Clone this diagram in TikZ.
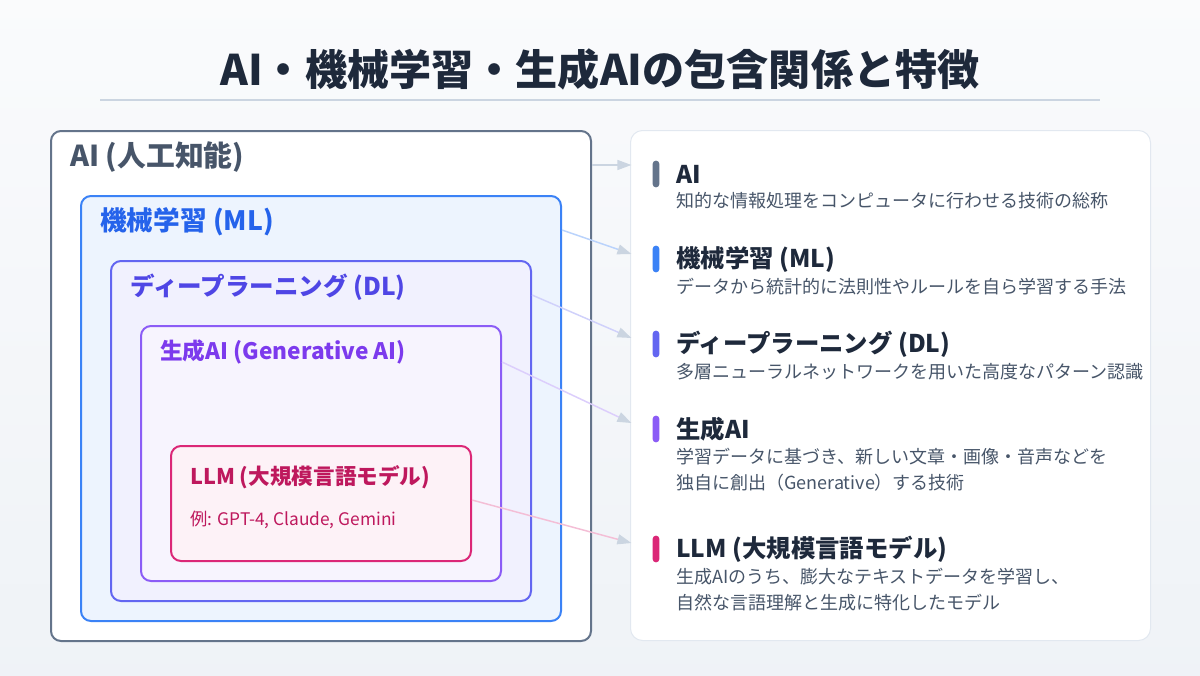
\documentclass[tikz,border=0pt]{standalone}
\usepackage{fontspec}
\setmainfont{Noto Sans CJK JP}
\usepackage{tikz}
\usetikzlibrary{arrows.meta, positioning, calc}
\usepackage{xcolor}
\definecolor{nestdark}{HTML}{1E293B}
\definecolor{nesttext}{HTML}{475569}
\definecolor{nestslate}{HTML}{64748B}
\definecolor{nestblue}{HTML}{3B82F6}
\definecolor{nestbluetext}{HTML}{2563EB}
\definecolor{nestindigo}{HTML}{6366F1}
\definecolor{nestindigotext}{HTML}{4F46E5}
\definecolor{nestviolet}{HTML}{8B5CF6}
\definecolor{nestviolettext}{HTML}{7C3AED}
\definecolor{nestpink}{HTML}{DB2777}
\definecolor{nestpinktext}{HTML}{BE185D}
\definecolor{nestline}{HTML}{CBD5E1}
\definecolor{nestborder}{HTML}{E2E8F0}

\tikzset{
  nestbox/.style={draw, line width=1.5pt, rounded corners=7.5pt,
    anchor=north west, inner sep=0pt},
  nestlabel/.style={anchor=west, inner sep=0pt, font=\bfseries\fontsize{#1}{#1}\selectfont},
  itembar/.style={rectangle, rounded corners=2.4pt, inner sep=0pt,
    minimum width=5pt, minimum height=20pt},
  itemhead/.style={anchor=west, inner sep=0pt, text=nestdark,
    font=\bfseries\fontsize{18.3}{18.3}\selectfont},
  itemdesc/.style={anchor=west, inner sep=0pt, text=nesttext, align=left,
    font=\fontsize{13.5}{19.5}\selectfont},
  link/.style={line width=1.1pt,
    -{Triangle[length=10.5pt, width=7.5pt, color=nestline]}}
}

\begin{document}
\begin{tikzpicture}[x=0.75pt, y=-0.75pt]
  \useasboundingbox (0,0) rectangle (1200,675);
  \shade[top color=white!40!nestborder!30, bottom color=nestborder!55] (0,0) rectangle (1200,675);

  % Title
  \node[font=\bfseries\fontsize{31.6}{36}\selectfont, text=nestdark] (title) at (600,69)
    {AI・機械学習・生成AIの包含関係と特徴};
  \draw[nestline, line width=1.5pt] (100,100) -- (1100,100);

  % Nested sets
  \node[nestbox, draw=nestslate, fill=white,
    minimum width=405pt, minimum height=382.5pt] (boxAI) at (50,130) {};
  \node[nestbox, draw=nestblue, fill=nestblue!9,
    minimum width=360pt, minimum height=318.75pt] (boxML) at (80,195) {};
  \node[nestbox, draw=nestindigo, fill=nestindigo!9,
    minimum width=315pt, minimum height=255pt] (boxDL) at (110,260) {};
  \node[nestbox, draw=nestviolet, fill=nestviolet!7,
    minimum width=270pt, minimum height=191.25pt] (boxGen) at (140,325) {};
  \node[nestbox, draw=nestpink, fill=nestpink!6,
    minimum width=225pt, minimum height=86.25pt] (boxLLM) at (170,445) {};

  \node[nestlabel=21.6, text=nesttext] (labelAI) at (70,157) {AI (人工知能)};
  \node[nestlabel=20, text=nestbluetext] (labelML) at (100,222) {機械学習 (ML)};
  \node[nestlabel=18.4, text=nestindigotext] (labelDL) at (130,287) {ディープラーニング (DL)};
  \node[nestlabel=17, text=nestviolettext] (labelGen) at (160,352) {生成AI (Generative AI)};
  \node[nestlabel=16.2, text=nestpinktext] (labelLLM) at (190,477) {LLM (大規模言語モデル)};
  \node[anchor=west, inner sep=0pt, text=nestpinktext, font=\fontsize{13}{13}\selectfont]
    (exLLM) at (190,520) {例: GPT-4, Claude, Gemini};

  % Legend panel
  \node[nestbox, draw=nestborder, line width=0.75pt, fill=white, rounded corners=9pt,
    minimum width=390pt, minimum height=382.5pt] (panel) at (630,130) {};

  \node[itembar, fill=nestslate] (barAI) at (656,174) {};
  \node[itemhead] (headAI) at (676,174) {AI};
  \node[itemdesc] (descAI) at (676,201) {知的な情報処理をコンピュータに行わせる技術の総称};

  \node[itembar, fill=nestblue] (barML) at (656,259) {};
  \node[itemhead] (headML) at (676,259) {機械学習 (ML)};
  \node[itemdesc] (descML) at (676,287) {データから統計的に法則性やルールを自ら学習する手法};

  \node[itembar, fill=nestindigo] (barDL) at (656,344) {};
  \node[itemhead] (headDL) at (676,344) {ディープラーニング (DL)};
  \node[itemdesc] (descDL) at (676,372) {多層ニューラルネットワークを用いた高度なパターン認識};

  \node[itembar, fill=nestviolet] (barGen) at (656,429) {};
  \node[itemhead] (headGen) at (676,429) {生成AI};
  \node[itemdesc] (descGen) at (676,470)
    {学習データに基づき、新しい文章・画像・音声などを\\独自に創出（Generative）する技術};

  \node[itembar, fill=nestpink] (barLLM) at (656,549) {};
  \node[itemhead] (headLLM) at (676,549) {LLM (大規模言語モデル)};
  \node[itemdesc] (descLLM) at (676,590)
    {生成AIのうち、膨大なテキストデータを学習し、\\自然な言語理解と生成に特化したモデル};

  % Links
  \draw[link, nestline] ($(boxAI.north east)+(0,35)$) -- ($(barAI.west)+(-21,-9)$);
  \draw[link, nestblue!35] ($(boxML.north east)+(0,35)$) -- ($(barML.west)+(-21,-5)$);
  \draw[link, nestindigo!30] ($(boxDL.north east)+(0,35)$) -- ($(barDL.west)+(-21,-6)$);
  \draw[link, nestviolet!30] ($(boxGen.north east)+(0,37)$) -- ($(barGen.west)+(-21,-6)$);
  \draw[link, nestpink!30] ($(boxLLM.north east)+(0,55)$) -- ($(barLLM.west)+(-21,-6)$);
\end{tikzpicture}
\end{document}
